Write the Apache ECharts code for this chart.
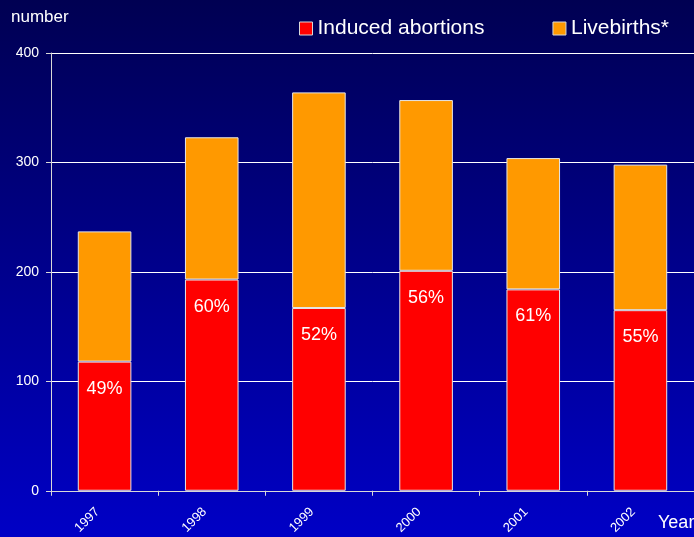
<!DOCTYPE html>
<html>
<head>
<meta charset="utf-8">
<script src="https://cdn.jsdelivr.net/npm/echarts@6/dist/echarts.min.js"></script>
<style>
  html, body { margin: 0; padding: 0; }
  #chart { width: 694px; height: 537px; }
</style>
</head>
<body>
<div id="chart"></div>
<script>
// Years on the category axis
const years = ['1997', '1998', '1999', '2000', '2001', '2002'];
// Induced abortions per year (lower segment)
const abortions = [118, 193, 167, 201, 184, 165];
// Livebirths per year (upper segment)
const livebirths = [119, 130, 197, 156, 120, 133];
// Percentages printed inside the abortion segments
const shares = ['49%', '60%', '52%', '56%', '61%', '55%'];
// Value axis ticks
const yTicks = { min: 0, max: 400, step: 100 };

const FONT = '"Liberation Sans", Arial, sans-serif';
const chart = echarts.init(document.getElementById('chart'), null, { renderer: 'canvas' });

chart.setOption({
  animation: false,
  backgroundColor: {
    type: 'linear', x: 0, y: 0, x2: 0, y2: 1,
    colorStops: [
      { offset: 0, color: '#000052' },
      { offset: 1, color: '#0000C6' }
    ]
  },
  textStyle: { fontFamily: FONT },
  legend: {
    left: 294, top: 13,
    icon: 'rect',
    itemWidth: 13, itemHeight: 13,
    itemGap: 68,
    itemStyle: { borderColor: '#d8d8d8', borderWidth: 1 },
    textStyle: { color: '#ffffff', fontSize: 21, fontFamily: FONT },
    data: ['Induced abortions', 'Livebirths*']
  },
  grid: { left: 51, top: 53, bottom: 46, width: 650 },
  xAxis: {
    type: 'category',
    data: years,
    axisLine: { lineStyle: { color: '#d8d8d8', width: 1 } },
    axisTick: { show: true, length: 5, lineStyle: { color: '#d8d8d8' } },
    axisLabel: {
      color: '#ffffff', fontSize: 13, fontFamily: FONT,
      rotate: 45, margin: 12, padding: [0, 10, 0, 0]
    }
  },
  yAxis: {
    type: 'value',
    min: yTicks.min, max: yTicks.max, interval: yTicks.step,
    axisLine: { show: true, lineStyle: { color: '#d8d8d8', width: 1 } },
    axisTick: { show: true, length: 5, lineStyle: { color: '#d8d8d8' } },
    axisLabel: { color: '#ffffff', fontSize: 14, fontFamily: FONT, margin: 12 },
    splitLine: { show: true, lineStyle: { color: '#ffffff', width: 1 } }
  },
  series: [
    {
      name: 'Induced abortions',
      type: 'bar',
      stack: 'total',
      barWidth: '50%',
      data: abortions,
      itemStyle: { color: '#FF0000', borderColor: '#e6e6e6', borderWidth: 1 },
      label: {
        show: true,
        position: 'insideTop',
        distance: 18,
        color: '#ffffff',
        fontSize: 18,
        fontFamily: FONT,
        formatter: p => shares[p.dataIndex]
      }
    },
    {
      name: 'Livebirths*',
      type: 'bar',
      stack: 'total',
      barWidth: '50%',
      data: livebirths,
      itemStyle: { color: '#FF9900', borderColor: '#e6e6e6', borderWidth: 1 }
    }
  ],
  graphic: [
    {
      type: 'text', left: 11, top: 9,
      style: { text: 'number', fill: '#ffffff', fontSize: 17, fontFamily: FONT }
    },
    {
      type: 'text', left: 658, top: 514,
      style: { text: 'Year', fill: '#ffffff', fontSize: 18, fontFamily: FONT }
    }
  ]
});
</script>
</body>
</html>
